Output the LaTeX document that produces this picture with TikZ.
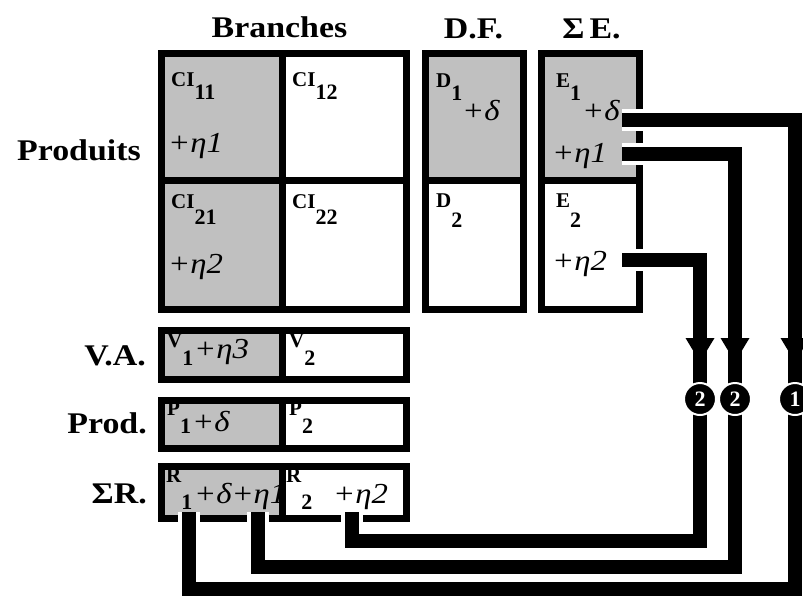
\documentclass[tikz,border=0pt]{standalone}
\usepackage{fontspec}
\setmainfont{Liberation Serif}
\newfontfamily\largefont[FakeStretch=1.13]{Liberation Serif}
\usepackage{xcolor}
\usetikzlibrary{calc,positioning}
\definecolor{grisclair}{RGB}{192,192,192}
\tikzset{
  bloc/.style={draw=black,line width=7pt},
  gris/.style={fill=grisclair},
  titre/.style={font=\largefont\bfseries\fontsize{30}{30}\selectfont,inner sep=0pt},
  indice/.style={font=\bfseries\fontsize{21}{21}\selectfont,anchor=base west,inner sep=0pt},
  terme/.style={font=\largefont\itshape\fontsize{29}{29}\selectfont,anchor=base west,inner sep=0pt},
  flux/.style={line width=14pt,preaction={draw=white,line width=22pt}},
  pastille/.style={circle,fill=black,draw=white,line width=2pt,minimum size=32pt,inner sep=0pt,
    text=white,font=\bfseries\fontsize{22}{22}\selectfont}
}
\newcommand{\bas}[2]{\raisebox{-#1}{\fontsize{22}{22}\selectfont #2}}

\begin{document}
\begin{tikzpicture}[x=1pt,y=-1pt]
\useasboundingbox (0,0) rectangle (803,595);
% blocs
\fill[gris] (161.5,53.5) rectangle (282,309.5);
\draw[bloc] (161.5,53.5) rectangle (406.5,309.5) (282,53.5) -- (282,309.5) (161.5,180) -- (406.5,180);
\fill[gris] (425.5,53.5) rectangle (523.5,180);
\draw[bloc] (425.5,53.5) rectangle (523.5,309.5) (425.5,180) -- (523.5,180);
\fill[gris] (541.5,53.5) rectangle (639.5,180);
\draw[bloc] (541.5,53.5) rectangle (639.5,309.5) (541.5,180) -- (639.5,180);
\foreach \ya/\yb in {330.5/379.5,400.5/448.5,466.5/518.5}{
  \fill[gris] (161.5,\ya) rectangle (282,\yb);
  \draw[bloc] (161.5,\ya) rectangle (406.5,\yb) (282,\ya) -- (282,\yb);
}
% titres
\node[titre,anchor=base] (branches) at (279.5,37) {Branches};
\node[titre,anchor=base] (df) at (473.5,38) {D.F.};
\node[titre,anchor=base] (se) at (591.5,38) {Σ\,E.};
\node[titre,anchor=base east] (produits) at (141,160) {Produits};
\node[titre,anchor=base east] (va) at (146,365) {V.A.};
\node[titre,anchor=base east] (prod) at (147,433) {Prod.};
\node[titre,anchor=base east] (sr) at (147,503) {ΣR.};
% cases
\node[indice] (ci11) at (171,86) {CI\bas{13pt}{11}};
\node[indice] (ci12) at (292,86) {CI\bas{13pt}{12}};
\node[indice] (ci21) at (171,208) {CI\bas{16pt}{21}};
\node[indice] (ci22) at (292,208) {CI\bas{16pt}{22}};
\node[indice] (d1) at (436,87) {D\bas{13pt}{1}};
\node[indice] (d2) at (436,207) {D\bas{20pt}{2}};
\node[indice] (e1) at (556,87) {E\bas{13pt}{1}};
\node[indice] (e2) at (556,207) {E\bas{20pt}{2}};
\node[indice] (v1) at (167,347) {V\bas{18pt}{1}};
\node[indice] (v2) at (289,347) {V\bas{18pt}{2}};
\node[indice] (p1) at (167,415) {P\bas{18pt}{1}};
\node[indice] (p2) at (289,415) {P\bas{18pt}{2}};
\node[indice] (r1) at (166,482) {R\bas{27pt}{1}};
\node[indice] (r2) at (286,482) {R\bas{27pt}{2}};
\node[terme] (ci11t) at (168,152) {+η1};
\node[terme] (ci21t) at (168,273) {+η2};
\node[terme] (d1t) at (462,120) {+δ};
\node[terme] (e1d) at (582,120) {+δ};
\node[terme] (e1e) at (552,162) {+η1};
\node[terme] (e2e) at (552,270) {+η2};
\node[terme] (v1t) at (194,358) {+η3};
\node[terme] (p1t) at (192,431) {+δ};
\node[terme] (r1t) at (194,503) {+δ+η1};
\node[terme] (r2t) at (333,503) {+η2};
% points de raccord
\coordinate (eD) at (622,120);
\coordinate (eE1) at (622,153.5);
\coordinate (eE2) at (622,260);
\coordinate (rD) at (189,512);
\coordinate (rE1) at (258,512);
\coordinate (rE2) at (352,512);
\coordinate (k1) at (795,399);
\coordinate (k2) at (735,399);
\coordinate (k3) at (700,399);
\coordinate (b1) at (0,589);
\coordinate (b2) at (0,567);
\coordinate (b3) at (0,541);
% liaisons
\draw[flux] (eD) -| (k1) |- (rD |- b1) -- (rD);
\draw[flux] (eE1) -| (k2) |- (rE1 |- b2) -- (rE1);
\draw[flux] (eE2) -| (k3) |- (rE2 |- b3) -- (rE2);
\foreach \k in {k1,k2,k3}
  \fill ($(\k)+(-14.5,-61)$) -- ++(29,0) -- ($(\k)+(0,-37)$) -- cycle;
\node[pastille] (c1) at (k1) {1};
\node[pastille] (c2) at (k2) {2};
\node[pastille] (c3) at (k3) {2};
\end{tikzpicture}
\end{document}
